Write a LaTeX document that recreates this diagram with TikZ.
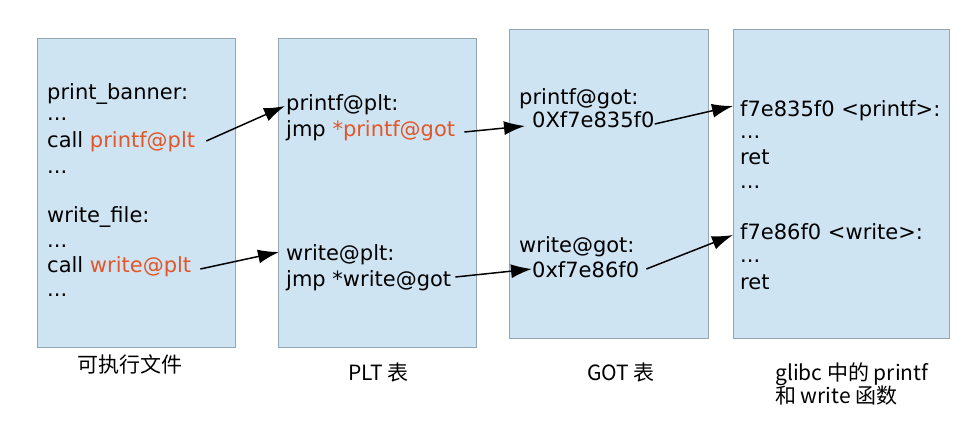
\documentclass[tikz,border=0pt]{standalone}
\usepackage{fontspec}
\setmainfont{DejaVu Sans}
\newfontfamily\cjk{Noto Sans CJK SC}
\usepackage{tikz}
\usetikzlibrary{arrows.meta, positioning}
\definecolor{memblue}{RGB}{207,228,243}
\definecolor{memedge}{RGB}{150,165,178}
\definecolor{symred}{RGB}{226,86,40}

\begin{document}
\begin{tikzpicture}[x=1pt,y=-1pt,>={Latex[length=21pt,width=14pt]},
    mem/.style={draw=memedge,fill=memblue,line width=0.6pt,minimum height=309pt},
    asm/.style={anchor=base west,inner sep=0pt,font=\fontsize{21}{25}\selectfont},
    title/.style={anchor=base west,inner sep=0pt,font=\cjk\fontsize{21}{25}\selectfont}]

			      \useasboundingbox (0,0) rectangle (976,443);

			      % memory areas
			      \node[mem, minimum width=198pt] (exe) at (136,192.5) {};
			      \node[mem, minimum width=198pt] (plt) at (377,192.5) {};
			      \node[mem, minimum width=199pt] (got) at (608.5,183.5) {};
			      \node[mem, minimum width=216pt] (lib) at (841,183.5) {};

			      % executable
			      \node[asm] (banner) at (47,100) {print\_banner:};
			      \node[asm] (d1) at (47,121) {...};
			      \node[asm] (callp) at (47,148) {call \textcolor{symred}{printf@plt}};
			      \node[asm] (d2) at (47,174) {...};
			      \node[asm] (wfile) at (47,223) {write\_file:};
			      \node[asm] (d3) at (47,248) {...};
			      \node[asm] (callw) at (47,273) {call \textcolor{symred}{write@plt}};
			      \node[asm] (d4) at (47,297) {...};

			      % plt
			      \node[asm] (pltp) at (286,111) {printf@plt:};
			      \node[asm] (jmpp) at (286,137) {jmp \textcolor{symred}{*printf@got}};
			      \node[asm] (pltw) at (286,261) {write@plt:};
			      \node[asm] (jmpw) at (286,287) {jmp *write@got};

			      % got
			      \node[asm] (gotp) at (519,105) {printf@got:};
			      \node[asm] (addrp) at (532,128) {0Xf7e835f0};
			      \node[asm] (gotw) at (519,253) {write@got:};
			      \node[asm] (addrw) at (532,278) {0xf7e86f0};

			      % glibc
			      \node[asm] (fnp) at (740,117) {f7e835f0 <printf>:};
			      \node[asm] (d5) at (740,139) {...};
			      \node[asm] (retp) at (740,165) {ret};
			      \node[asm] (d6) at (740,189) {...};
			      \node[asm] (fnw) at (740,240) {f7e86f0 <write>:};
			      \node[asm] (d7) at (740,263) {...};
			      \node[asm] (retw) at (740,290) {ret};

			      % captions
			      \node[title] (lexe) at (77,372) {可执行文件};
			      \node[title] (lplt) at (348,380) {PLT 表};
			      \node[title] (lgot) at (587,380) {GOT 表};
			      \node[title] (llib) at (775,380) {glibc 中的 printf};
			      \node[title] (llib2) at (775,403) {和 write 函数};

			      \path[->, line width=1.5pt]
			      ([shift={(11,-7)}]callp.base east) edge ([shift={(-1,-5)}]pltp.base west)
			      ([shift={(9,-5)}]jmpp.base east) edge ([shift={(-7,-2)}]addrp.base west)
			      ([shift={(0,-4)}]addrp.base east) edge ([shift={(-7,-11)}]fnp.base west)

			      ([shift={(9,-4)}]callw.base east) edge ([shift={(-7,-9)}]pltw.base west)
			      ([shift={(4,-10)}]jmpw.base east) edge ([shift={(0,-9)}]addrw.base west)
			      ([shift={(7,-9)}]addrw.base east) edge ([shift={(-7,-5)}]fnw.base west)
			      ;
		      \end{tikzpicture}
\end{document}
